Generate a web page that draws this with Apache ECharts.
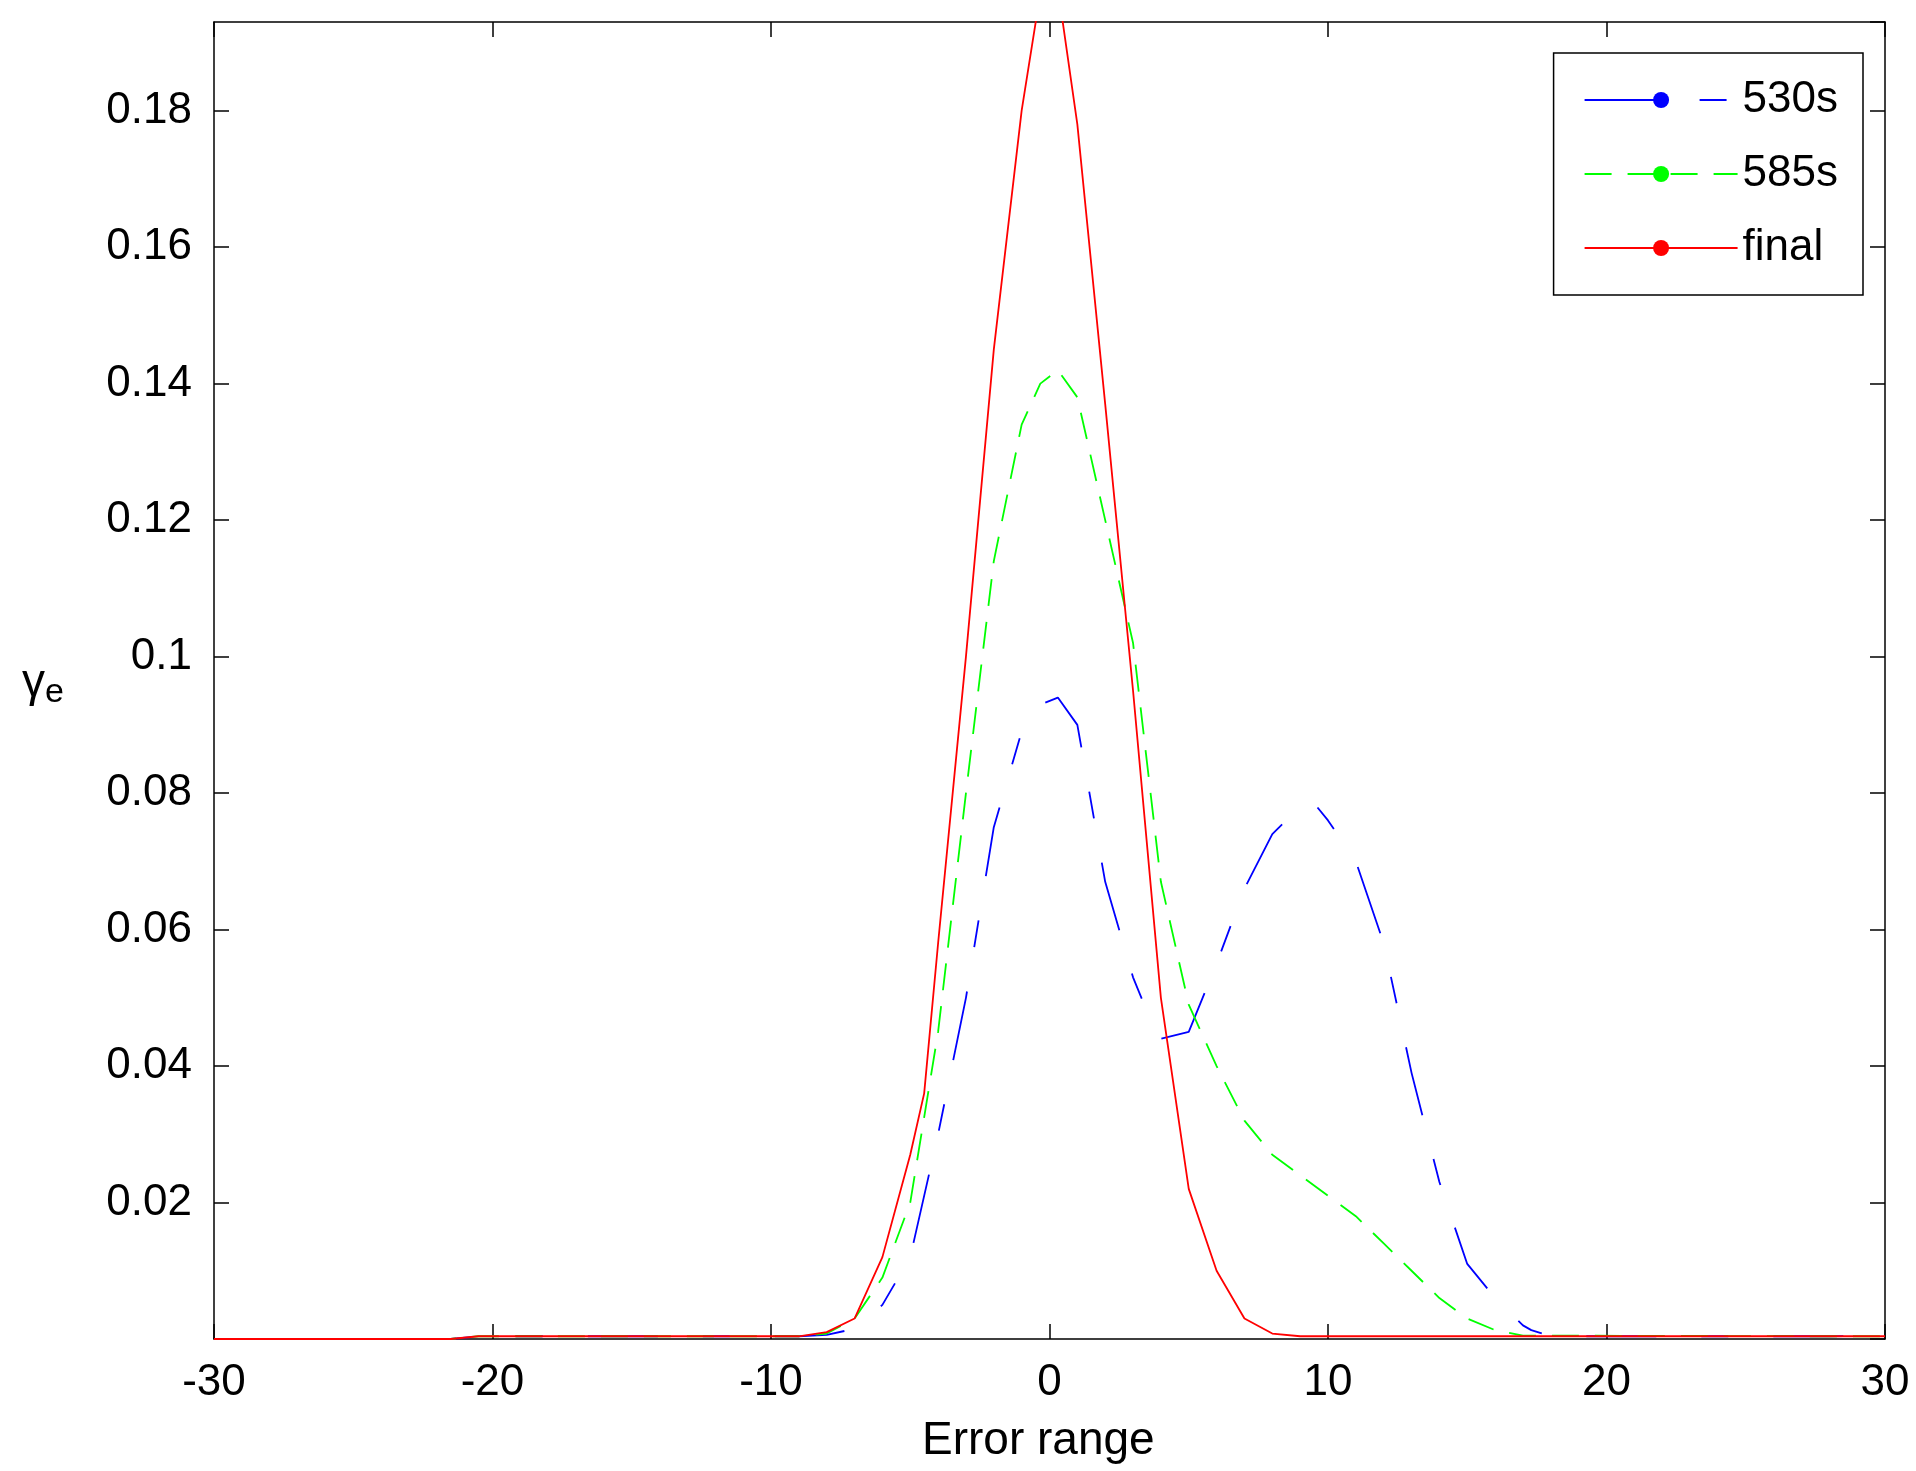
<!DOCTYPE html>
<html><head><meta charset="utf-8">
<script src="https://cdn.jsdelivr.net/npm/echarts@6/dist/echarts.min.js"></script>
<style>html,body{margin:0;padding:0;background:#fff}#c{width:1916px;height:1471px}</style>
</head><body><div id="c"></div>
<script>
const xTicks = [-30,-20,-10,0,10,20,30];
const s530 = [[-30,0],[-21.5,0],[-20.5,0.0004],[-9,0.0004],[-8,0.0006],[-7,0.0015],[-6,0.005],[-5,0.012],[-4,0.03],[-3,0.05],[-2,0.075],[-1,0.089],[-0.3,0.093],[0.3,0.094],[1,0.09],[2,0.067],[3,0.053],[3.5,0.048],[4,0.044],[5,0.045],[6,0.055],[7,0.066],[8,0.074],[9,0.078],[9.5,0.0785],[10,0.076],[11,0.07],[12,0.058],[13,0.039],[14,0.023],[15,0.011],[16,0.006],[17,0.002],[17.3,0.0013],[18,0.0004],[28,0.0004],[30,0.0005]];
const s585 = [[-30,0],[-21.5,0],[-20.5,0.0004],[-9,0.0004],[-8,0.0008],[-7,0.003],[-6,0.009],[-5,0.02],[-4,0.045],[-3,0.08],[-2,0.114],[-1,0.134],[-0.33,0.14],[0.3,0.142],[1,0.138],[2,0.12],[3,0.102],[4,0.067],[5,0.049],[6,0.04],[7,0.032],[8,0.027],[9,0.024],[10,0.021],[11,0.018],[12,0.014],[13,0.01],[14,0.006],[15,0.003],[16,0.0013],[17,0.0005],[28,0.0004],[30,0.0004]];
const sFinal = [[-30,0],[-21.5,0],[-20.5,0.0004],[-9,0.0004],[-8,0.001],[-7,0.003],[-6,0.012],[-5,0.027],[-4.5,0.036],[-4,0.058],[-3,0.1],[-2,0.145],[-1,0.18],[-0.3,0.198],[0.3,0.198],[1,0.178],[2,0.137],[3,0.095],[4,0.05],[5,0.022],[6,0.01],[7,0.003],[8,0.0008],[9,0.0004],[30,0.0004]];

const font = 'Liberation Sans, Arial, sans-serif';
const chart = echarts.init(document.getElementById('c'));
function ax(extra){
  return Object.assign({type:'value',
    axisLine:{show:true,onZero:false,lineStyle:{color:'#000',width:1.5}},
    axisTick:{show:true,inside:true,length:15,lineStyle:{color:'#000',width:1.5}},
    splitLine:{show:false}}, extra);
}
chart.setOption({
  animation:false,
  backgroundColor:'#fff',
  grid:{left:214,right:31,top:22,bottom:132,containLabel:false},
  legend:{
    right:53, top:53, orient:'vertical', itemWidth:153, itemHeight:20, itemGap:30,
    padding:[25,25,25,30], borderColor:'#000', borderWidth:1.5, borderRadius:0, backgroundColor:'#fff',
    textStyle:{fontFamily:font,fontSize:44,color:'#000',lineHeight:40},
    data:['530s','585s','final']
  },
  xAxis:[
    ax({min:-30,max:30,interval:10,position:'bottom',
      axisLabel:{fontFamily:font,fontSize:44,color:'#000',margin:22,showMinLabel:true,showMaxLabel:true}}),
    ax({min:-30,max:30,interval:10,position:'top',axisLabel:{show:false}})
  ],
  yAxis:[
    ax({min:0,max:0.193,interval:0.02,position:'left',
      axisLabel:{fontFamily:font,fontSize:44,color:'#000',margin:22,showMaxLabel:false,showMinLabel:false,
        formatter:v=>String(+v.toFixed(2))}}),
    ax({min:0,max:0.193,interval:0.02,position:'right',axisLabel:{show:false}})
  ],
  graphic:[
    {type:'text',left:22,top:660,style:{text:'{g|γ}{e|e}',rich:{g:{fontFamily:font,fontSize:46,fill:'#000'},e:{fontFamily:font,fontSize:34,fill:'#000',padding:[20,0,0,0]}}}},
    {type:'text',left:922,top:1418,style:{text:'Error range',fontFamily:font,fontSize:46,fill:'#000'}}
  ],
  series:[
    {name:'530s',type:'line',data:s530,showSymbol:false,symbol:'none',clip:true,lineStyle:{color:'#0000ff',width:1.8,type:[70,45,27,45]},itemStyle:{color:'#0000ff'}},
    {name:'585s',type:'line',data:s585,showSymbol:false,symbol:'none',clip:true,lineStyle:{color:'#00ff00',width:1.8,type:[27,16]},itemStyle:{color:'#00ff00'}},
    {name:'final',type:'line',data:sFinal,showSymbol:false,symbol:'none',clip:true,lineStyle:{color:'#ff0000',width:1.8},itemStyle:{color:'#ff0000'}}
  ]
});
</script></body></html>
